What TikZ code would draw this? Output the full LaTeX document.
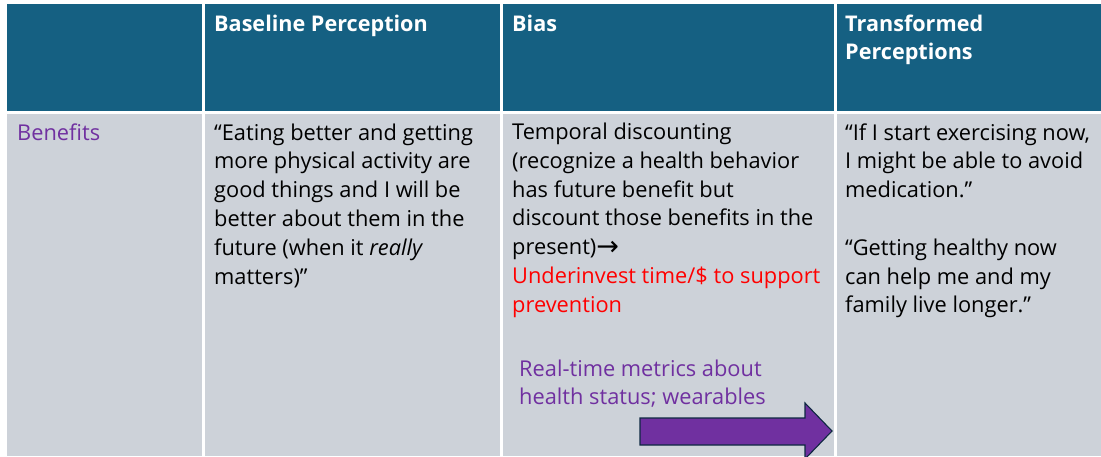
\documentclass[tikz,border=0pt]{standalone}
\usepackage{fontspec}
\setmainfont{Open Sans}
\newfontfamily\symfont{DejaVu Sans}
\definecolor{hdr}{HTML}{156082}
\definecolor{bodyc}{HTML}{CDD2D9}
\definecolor{purp}{HTML}{7030A0}
\definecolor{arrowline}{HTML}{0E2841}
\begin{document}
\begin{tikzpicture}[x=1pt,y=-1pt,
  hcell/.style={fill=hdr,draw=none},
  bcell/.style={fill=bodyc,draw=none},
  htxt/.style={anchor=base west,inner sep=0pt,text=white,font=\fontsize{21.6}{28}\selectfont\bfseries},
  btxt/.style={anchor=base west,inner sep=0pt,text=black,font=\fontsize{21.8}{28.8}\selectfont},
  rtxt/.style={btxt,text=red},
  ptxt/.style={btxt,text=purp}]
\useasboundingbox (0,0) rectangle (1101,456);
\fill[white] (0,0) rectangle (1101,456);
% header cells
\fill[hcell] (7,4) rectangle (201.5,111);
\fill[hcell] (204.5,4) rectangle (499.5,111);
\fill[hcell] (502.5,4) rectangle (833.5,111);
\fill[hcell] (836.5,4) rectangle (1101,111);
% body cells
\fill[bcell] (7,114) rectangle (201.5,456);
\fill[bcell] (204.5,114) rectangle (499.5,456);
\fill[bcell] (502.5,114) rectangle (833.5,456);
\fill[bcell] (836.5,114) rectangle (1101,456);
% header text
\node[htxt] (h1) at (214,31) {Baseline Perception};
\node[htxt] (h2) at (512,31) {Bias};
\node[htxt] (h3a) at (845,31) {Transformed};
\node[htxt] (h3b) at (845,59) {Perceptions};
% row label
\node[ptxt] (r1) at (17,140) {Benefits};
% column 2
\node[btxt] (a1) at (214,140) {“Eating better and getting};
\node[btxt] (a2) at (214,168.8) {more physical activity are};
\node[btxt] (a3) at (214,197.6) {good things and I will be};
\node[btxt] (a4) at (214,226.4) {better about them in the};
\node[btxt] (a5) at (214,255.2) {future (when it \textit{really}};
\node[btxt] (a6) at (214,284) {matters)”};
% column 3
\node[btxt] (b1) at (512,139.5) {Temporal discounting};
\node[btxt] (b2) at (512,168.3) {(recognize a health behavior};
\node[btxt] (b3) at (512,197.1) {has future benefit but};
\node[btxt] (b4) at (512,225.9) {discount those benefits in the};
\node[btxt] (b5) at (512,254.7) {present)\raisebox{-0.02em}{\symfont\fontsize{27}{28}\selectfont →}};
\node[rtxt] (b6) at (512,283.5) {Underinvest time/\$ to support};
\node[rtxt] (b7) at (512,312.3) {prevention};
\node[ptxt] (p1) at (519,376) {Real-time metrics about};
\node[ptxt] (p2) at (519,404.5) {health status; wearables};
% column 4
\node[btxt] (c1) at (845,140) {“If I start exercising now,};
\node[btxt] (c2) at (845,168.8) {I might be able to avoid};
\node[btxt] (c3) at (845,197.6) {medication.”};
\node[btxt] (c4) at (845,255.2) {“Getting healthy now};
\node[btxt] (c5) at (845,284) {can help me and my};
\node[btxt] (c6) at (845,312.8) {family live longer.”};
% arrow
\begin{scope}
\clip (0,0) rectangle (1101,456);
\draw[fill=purp,draw=arrowline,line width=1.1pt,line join=miter]
  (640,418) -- (805,418) -- (805,403) -- (832,431) -- (805,459) -- (805,445) -- (640,445) -- cycle;
\end{scope}
\end{tikzpicture}
\end{document}
